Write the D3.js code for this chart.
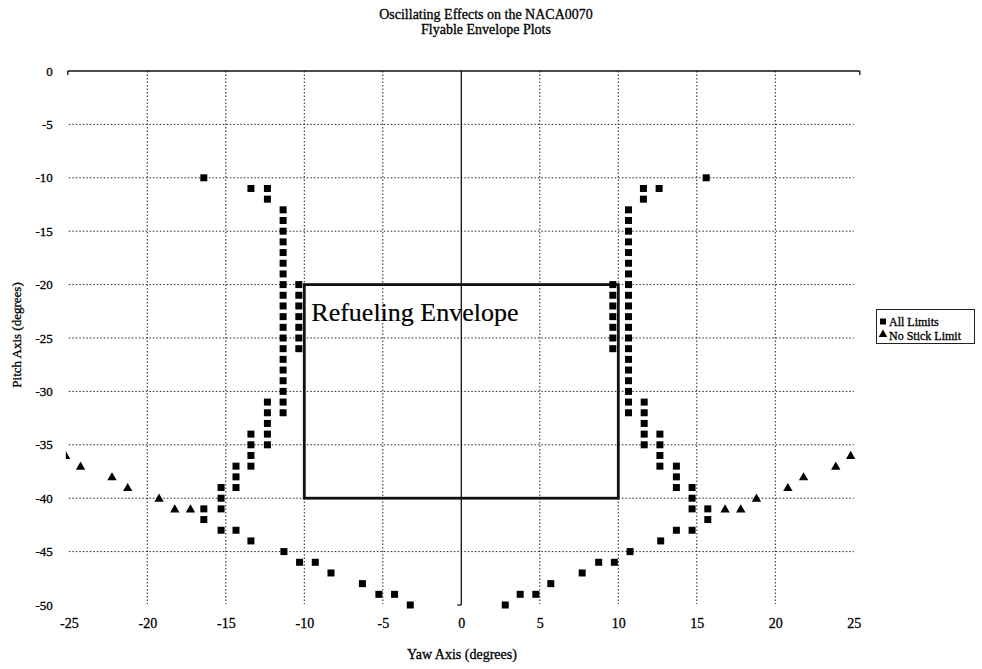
<!DOCTYPE html>
<html>
<head>
<meta charset="utf-8">
<script src="https://cdn.jsdelivr.net/npm/d3@7"></script>
<style>
  html, body { margin: 0; padding: 0; background: #fff; }
  svg { display: block; font-family: "Liberation Serif", "Times New Roman", serif; }
  svg text { stroke: #000; stroke-width: 0.3px; fill: #000; }
</style>
</head>
<body>
<svg id="chart" width="982" height="669"></svg>
<script>
// ---------------- DATA ----------------
const titleLines = ["Oscillating Effects on the NACA0070", "Flyable Envelope Plots"];
const xAxisTitle = "Yaw Axis (degrees)";
const yAxisTitle = "Pitch Axis (degrees)";
const xTicks = [-25, -20, -15, -10, -5, 0, 5, 10, 15, 20, 25];
const yTicks = [0, -5, -10, -15, -20, -25, -30, -35, -40, -45, -50];
const seriesNames = ["All Limits", "No Stick Limit"];
const envelopeLabel = "Refueling Envelope";
const envelopeBox = { x0: -10, x1: 10, y0: -20, y1: -40 };

// Series 1: All Limits (squares)
const allLimits = [
  // left side
  [-16.4, -10], [-13.4, -11], [-12.35, -11], [-12.35, -12],
  [-11.35, -13], [-11.35, -14], [-11.35, -15], [-11.35, -16], [-11.35, -17],
  [-11.35, -18], [-11.35, -19], [-11.35, -20], [-11.35, -21], [-11.35, -22],
  [-11.35, -23], [-11.35, -24], [-11.35, -25], [-11.35, -26], [-11.35, -27],
  [-11.35, -28], [-11.35, -29], [-11.35, -30], [-11.35, -31], [-11.35, -32],
  [-10.35, -20], [-10.35, -21], [-10.35, -22], [-10.35, -23], [-10.35, -24],
  [-10.35, -25], [-10.35, -26],
  [-12.35, -31], [-12.35, -32], [-12.35, -33], [-12.35, -34], [-12.35, -35],
  [-13.4, -34], [-13.4, -35], [-13.4, -36], [-13.4, -37],
  [-14.35, -37], [-14.35, -38], [-14.35, -39],
  [-15.3, -39], [-15.3, -40], [-15.3, -41],
  [-16.4, -41], [-16.4, -42], [-15.3, -43], [-14.35, -43], [-13.4, -44],
  [-11.3, -45], [-10.3, -46], [-9.3, -46], [-8.3, -47], [-6.3, -48],
  [-5.25, -49], [-4.25, -49], [-3.25, -50],
  // right side
  [15.6, -10], [11.6, -11], [12.6, -11], [11.6, -12],
  [10.65, -13], [10.65, -14], [10.65, -15], [10.65, -16], [10.65, -17],
  [10.65, -18], [10.65, -19], [10.65, -20], [10.65, -21], [10.65, -22],
  [10.65, -23], [10.65, -24], [10.65, -25], [10.65, -26], [10.65, -27],
  [10.65, -28], [10.65, -29], [10.65, -30], [10.65, -31], [10.65, -32],
  [9.65, -20], [9.65, -21], [9.65, -22], [9.65, -23], [9.65, -24],
  [9.65, -25], [9.65, -26],
  [11.65, -31], [11.65, -32], [11.65, -33], [11.65, -34], [11.65, -35],
  [12.65, -34], [12.65, -35], [12.65, -36], [12.65, -37],
  [13.7, -37], [13.7, -38], [13.7, -39],
  [14.7, -39], [14.7, -40], [14.7, -41],
  [15.7, -41], [15.7, -42], [14.7, -43], [13.7, -43], [12.7, -44],
  [10.75, -45], [9.75, -46], [8.75, -46], [7.7, -47], [5.7, -48],
  [4.75, -49], [3.75, -49], [2.8, -50]
];

// Series 2: No Stick Limit (triangles)
const noStickLimit = [
  [-25.2, -36], [-24.25, -37], [-22.25, -38], [-21.25, -39], [-19.25, -40],
  [-18.25, -41], [-17.25, -41],
  [16.8, -41], [17.8, -41], [18.8, -40], [20.8, -39], [21.8, -38],
  [23.85, -37], [24.8, -36]
];

// ---------------- CHART ----------------
const svg = d3.select("#chart");
const plotLeft = 68.8, plotRight = 853.8, plotTop = 71, plotBottom = 605;

const x = d3.scaleLinear().domain([-25, 25]).range([plotLeft, plotRight]);
const y = d3.scaleLinear().domain([0, -50]).range([plotTop, plotBottom]);

svg.append("defs").append("clipPath").attr("id", "plotClip")
  .append("rect").attr("x", plotLeft - 3).attr("y", plotTop - 6)
  .attr("width", plotRight - plotLeft + 9).attr("height", plotBottom - plotTop + 12);

// Gridlines
const grid = svg.append("g").attr("stroke", "#222").attr("stroke-width", 1)
  .attr("stroke-dasharray", "1.5,2");
grid.selectAll("line.v").data(xTicks.filter(t => t !== 0 && t !== -25 && t !== 25))
  .join("line").attr("class", "v")
  .attr("x1", d => x(d)).attr("x2", d => x(d))
  .attr("y1", plotTop).attr("y2", plotBottom - 1);
grid.selectAll("line.h").data(yTicks.filter(t => t !== 0 && t !== -50))
  .join("line").attr("class", "h")
  .attr("x1", plotLeft).attr("x2", plotRight)
  .attr("y1", d => y(d)).attr("y2", d => y(d));

// Axis lines (x axis crosses at pitch 0; pitch axis at yaw 0)
svg.append("line").attr("x1", plotLeft - 1).attr("x2", plotRight + 6)
  .attr("y1", y(0)).attr("y2", y(0)).attr("stroke", "#111").attr("stroke-width", 1.3);
svg.append("line").attr("x1", plotLeft - 1).attr("x2", plotLeft - 1)
  .attr("y1", y(0)).attr("y2", y(0) + 4).attr("stroke", "#111").attr("stroke-width", 1.3);
svg.append("line").attr("x1", plotRight + 6).attr("x2", plotRight + 6)
  .attr("y1", y(0)).attr("y2", y(0) + 4).attr("stroke", "#111").attr("stroke-width", 1.3);
svg.append("line").attr("x1", x(0)).attr("x2", x(0))
  .attr("y1", y(0)).attr("y2", y(-50)).attr("stroke", "#111").attr("stroke-width", 1.3);
svg.append("line").attr("x1", x(0) - 4).attr("x2", x(0))
  .attr("y1", y(-50)).attr("y2", y(-50)).attr("stroke", "#111").attr("stroke-width", 1.3);

// Tick labels via d3 axes
const xAxis = svg.append("g").attr("transform", `translate(0,${plotBottom})`)
  .call(d3.axisBottom(x).tickValues(xTicks).tickSize(0).tickPadding(13).tickFormat(d3.format("d")));
xAxis.select(".domain").remove();
xAxis.selectAll("text").attr("font-size", 14).attr("fill", "#000")
  .attr("font-family", "Liberation Serif, serif").text(d => d < 0 ? "-" + Math.abs(d) : d);

const yAxis = svg.append("g").attr("transform", `translate(${plotLeft},0)`)
  .call(d3.axisLeft(y).tickValues(yTicks).tickSize(0).tickPadding(16).tickFormat(d3.format("d")));
yAxis.select(".domain").remove();
yAxis.selectAll("text").attr("font-size", 13).attr("fill", "#000")
  .attr("font-family", "Liberation Serif, serif").text(d => d < 0 ? "-" + Math.abs(d) : d);

// Refueling envelope box
svg.append("rect")
  .attr("x", x(envelopeBox.x0)).attr("y", y(envelopeBox.y0))
  .attr("width", x(envelopeBox.x1) - x(envelopeBox.x0))
  .attr("height", y(envelopeBox.y1) - y(envelopeBox.y0))
  .attr("fill", "none").attr("stroke", "#111").attr("stroke-width", 2.8);

svg.append("text").attr("x", x(envelopeBox.x0) + 7).attr("y", y(envelopeBox.y0) + 36)
  .attr("font-size", 26).style("stroke-width", "0.2px").text(envelopeLabel);

// Data points
const marks = svg.append("g").attr("clip-path", "url(#plotClip)");
const sq = 7;
marks.selectAll("rect.all").data(allLimits).join("rect").attr("class", "all")
  .attr("x", d => x(d[0]) - sq / 2).attr("y", d => y(d[1]) - sq / 2)
  .attr("width", sq).attr("height", sq).attr("fill", "#000");

const tri = d3.symbol().type(d3.symbolTriangle).size(38);
marks.selectAll("path.ns").data(noStickLimit).join("path").attr("class", "ns")
  .attr("transform", d => `translate(${x(d[0])},${y(d[1]) + 0.8})`)
  .attr("d", tri).attr("fill", "#000");

// Titles
svg.append("text").attr("x", 486).attr("y", 19).attr("text-anchor", "middle")
  .attr("font-size", 14).text(titleLines[0]);
svg.append("text").attr("x", 486).attr("y", 34).attr("text-anchor", "middle")
  .attr("font-size", 14).text(titleLines[1]);

svg.append("text").attr("x", 462).attr("y", 659).attr("text-anchor", "middle")
  .attr("font-size", 14).text(xAxisTitle);

svg.append("text").attr("transform", "translate(21,335) rotate(-90)")
  .attr("text-anchor", "middle").attr("font-size", 13).text(yAxisTitle);

// Legend
const lg = svg.append("g");
lg.append("rect").attr("x", 876.5).attr("y", 309.5).attr("width", 98).attr("height", 34)
  .attr("fill", "#fff").attr("stroke", "#222").attr("stroke-width", 1);
lg.append("rect").attr("x", 880).attr("y", 318.5).attr("width", 6).attr("height", 6).attr("fill", "#000");
lg.append("text").attr("x", 889).attr("y", 325.5).attr("font-size", 12).text(seriesNames[0]);
lg.append("path").attr("transform", "translate(883,334.5)")
  .attr("d", d3.symbol().type(d3.symbolTriangle).size(32)).attr("fill", "#000");
lg.append("text").attr("x", 889).attr("y", 340).attr("font-size", 12).text(seriesNames[1]);
</script>
</body>
</html>
